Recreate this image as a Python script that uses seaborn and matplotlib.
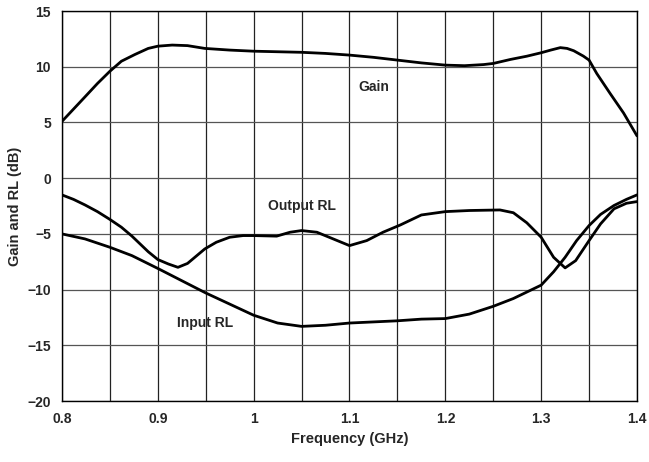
import matplotlib
matplotlib.use("Agg")
import matplotlib.pyplot as plt
import seaborn as sns
import pandas as pd

# Data
gain_freq = [0.8, 0.812, 0.824, 0.837, 0.85, 0.862, 0.876, 0.89, 0.9, 0.915, 0.931, 0.949,
             0.975, 1.0, 1.025, 1.05, 1.075, 1.1, 1.125, 1.15, 1.175, 1.2, 1.22, 1.24,
             1.25, 1.268, 1.285, 1.3, 1.31, 1.32, 1.327, 1.334, 1.344, 1.35, 1.358,
             1.372, 1.386, 1.4]
gain_db = [5.1, 6.2, 7.3, 8.5, 9.6, 10.5, 11.1, 11.65, 11.85, 11.95, 11.9, 11.65,
           11.5, 11.4, 11.35, 11.3, 11.2, 11.05, 10.85, 10.6, 10.35, 10.15, 10.1, 10.2,
           10.3, 10.66, 10.95, 11.26, 11.5, 11.72, 11.65, 11.44, 10.96, 10.6, 9.4,
           7.6, 5.85, 3.8]

out_freq = [0.8, 0.812, 0.824, 0.837, 0.85, 0.862, 0.873, 0.89, 0.9, 0.911, 0.921, 0.931,
            0.94, 0.949, 0.961, 0.975, 0.989, 1.0, 1.024, 1.038, 1.05, 1.066, 1.083,
            1.1, 1.118, 1.135, 1.153, 1.175, 1.2, 1.225, 1.257, 1.271, 1.285, 1.3,
            1.313, 1.325, 1.336, 1.35, 1.362, 1.376, 1.389, 1.4]
out_rl = [-1.5, -1.9, -2.4, -3.0, -3.7, -4.4, -5.2, -6.6, -7.3, -7.7, -8.0, -7.65,
          -7.0, -6.35, -5.75, -5.3, -5.15, -5.15, -5.2, -4.85, -4.7, -4.85, -5.45,
          -6.05, -5.6, -4.85, -4.2, -3.3, -3.0, -2.9, -2.85, -3.1, -4.0, -5.3,
          -7.1, -8.05, -7.4, -5.6, -4.1, -2.75, -2.25, -2.1]

in_freq = [0.8, 0.824, 0.85, 0.873, 0.9, 0.925, 0.95, 0.975, 1.0, 1.025, 1.05, 1.075,
           1.1, 1.125, 1.15, 1.175, 1.2, 1.225, 1.25, 1.271, 1.3, 1.313, 1.325, 1.337,
           1.35, 1.362, 1.376, 1.389, 1.4]
in_rl = [-5.0, -5.45, -6.2, -6.95, -8.1, -9.2, -10.3, -11.3, -12.3, -13.0, -13.3, -13.2,
         -13.0, -12.9, -12.8, -12.65, -12.6, -12.2, -11.5, -10.8, -9.6, -8.4, -7.1, -5.6,
         -4.25, -3.25, -2.45, -1.9, -1.5]

x_ticks = [0.8, 0.9, 1.0, 1.1, 1.2, 1.3, 1.4]
x_tick_labels = ["0.8", "0.9", "1", "1.1", "1.2", "1.3", "1.4"]
y_ticks = [-20, -15, -10, -5, 0, 5, 10, 15]

df = pd.concat([
    pd.DataFrame({"f": gain_freq, "v": gain_db, "s": "Gain"}),
    pd.DataFrame({"f": out_freq, "v": out_rl, "s": "Output RL"}),
    pd.DataFrame({"f": in_freq, "v": in_rl, "s": "Input RL"}),
])

sns.set_theme(style="white")
plt.rcParams["font.family"] = ["Liberation Sans", "DejaVu Sans"]

fig = plt.figure(figsize=(6.49, 4.62), dpi=100)
ax = fig.add_axes([0.0955, 0.132, 0.886, 0.844])

# grid lines
for i in range(13):
    ax.axvline(0.8 + 0.05 * i, color="#222222", lw=0.9, zorder=1)
for yv in y_ticks:
    ax.axhline(yv, color="#555555", lw=0.9, zorder=1)

sns.lineplot(data=df, x="f", y="v", units="s", estimator=None, sort=False,
             color="black", lw=2.0, ax=ax, zorder=3, legend=False)
for ln in ax.get_lines():
    ln.set_solid_joinstyle("round")
    ln.set_solid_capstyle("round")

ax.set_xlim(0.8, 1.4)
ax.set_ylim(-20, 15)
ax.set_xticks(x_ticks)
ax.set_xticklabels(x_tick_labels)
ax.set_yticks(y_ticks)
for lbl in ax.get_xticklabels() + ax.get_yticklabels():
    lbl.set_fontweight("bold")
    lbl.set_fontsize(10)
ax.tick_params(axis="both", length=0, pad=8)
ax.set_xlabel("Frequency (GHz)", fontsize=10.5, fontweight="bold", labelpad=4)
ax.set_ylabel("Gain and RL (dB)", fontsize=10.5, fontweight="bold", labelpad=4)
for sp in ax.spines.values():
    sp.set_color("black")
    sp.set_linewidth(1.0)

ax.text(1.125, 8.2, "Gain", fontsize=10, fontweight="bold", ha="center", va="center", zorder=4)
ax.text(1.05, -2.5, "Output RL", fontsize=10, fontweight="bold", ha="center", va="center", zorder=4)
ax.text(0.949, -13.0, "Input RL", fontsize=10, fontweight="bold", ha="center", va="center", zorder=4)

fig.savefig("out.png", dpi=100)
